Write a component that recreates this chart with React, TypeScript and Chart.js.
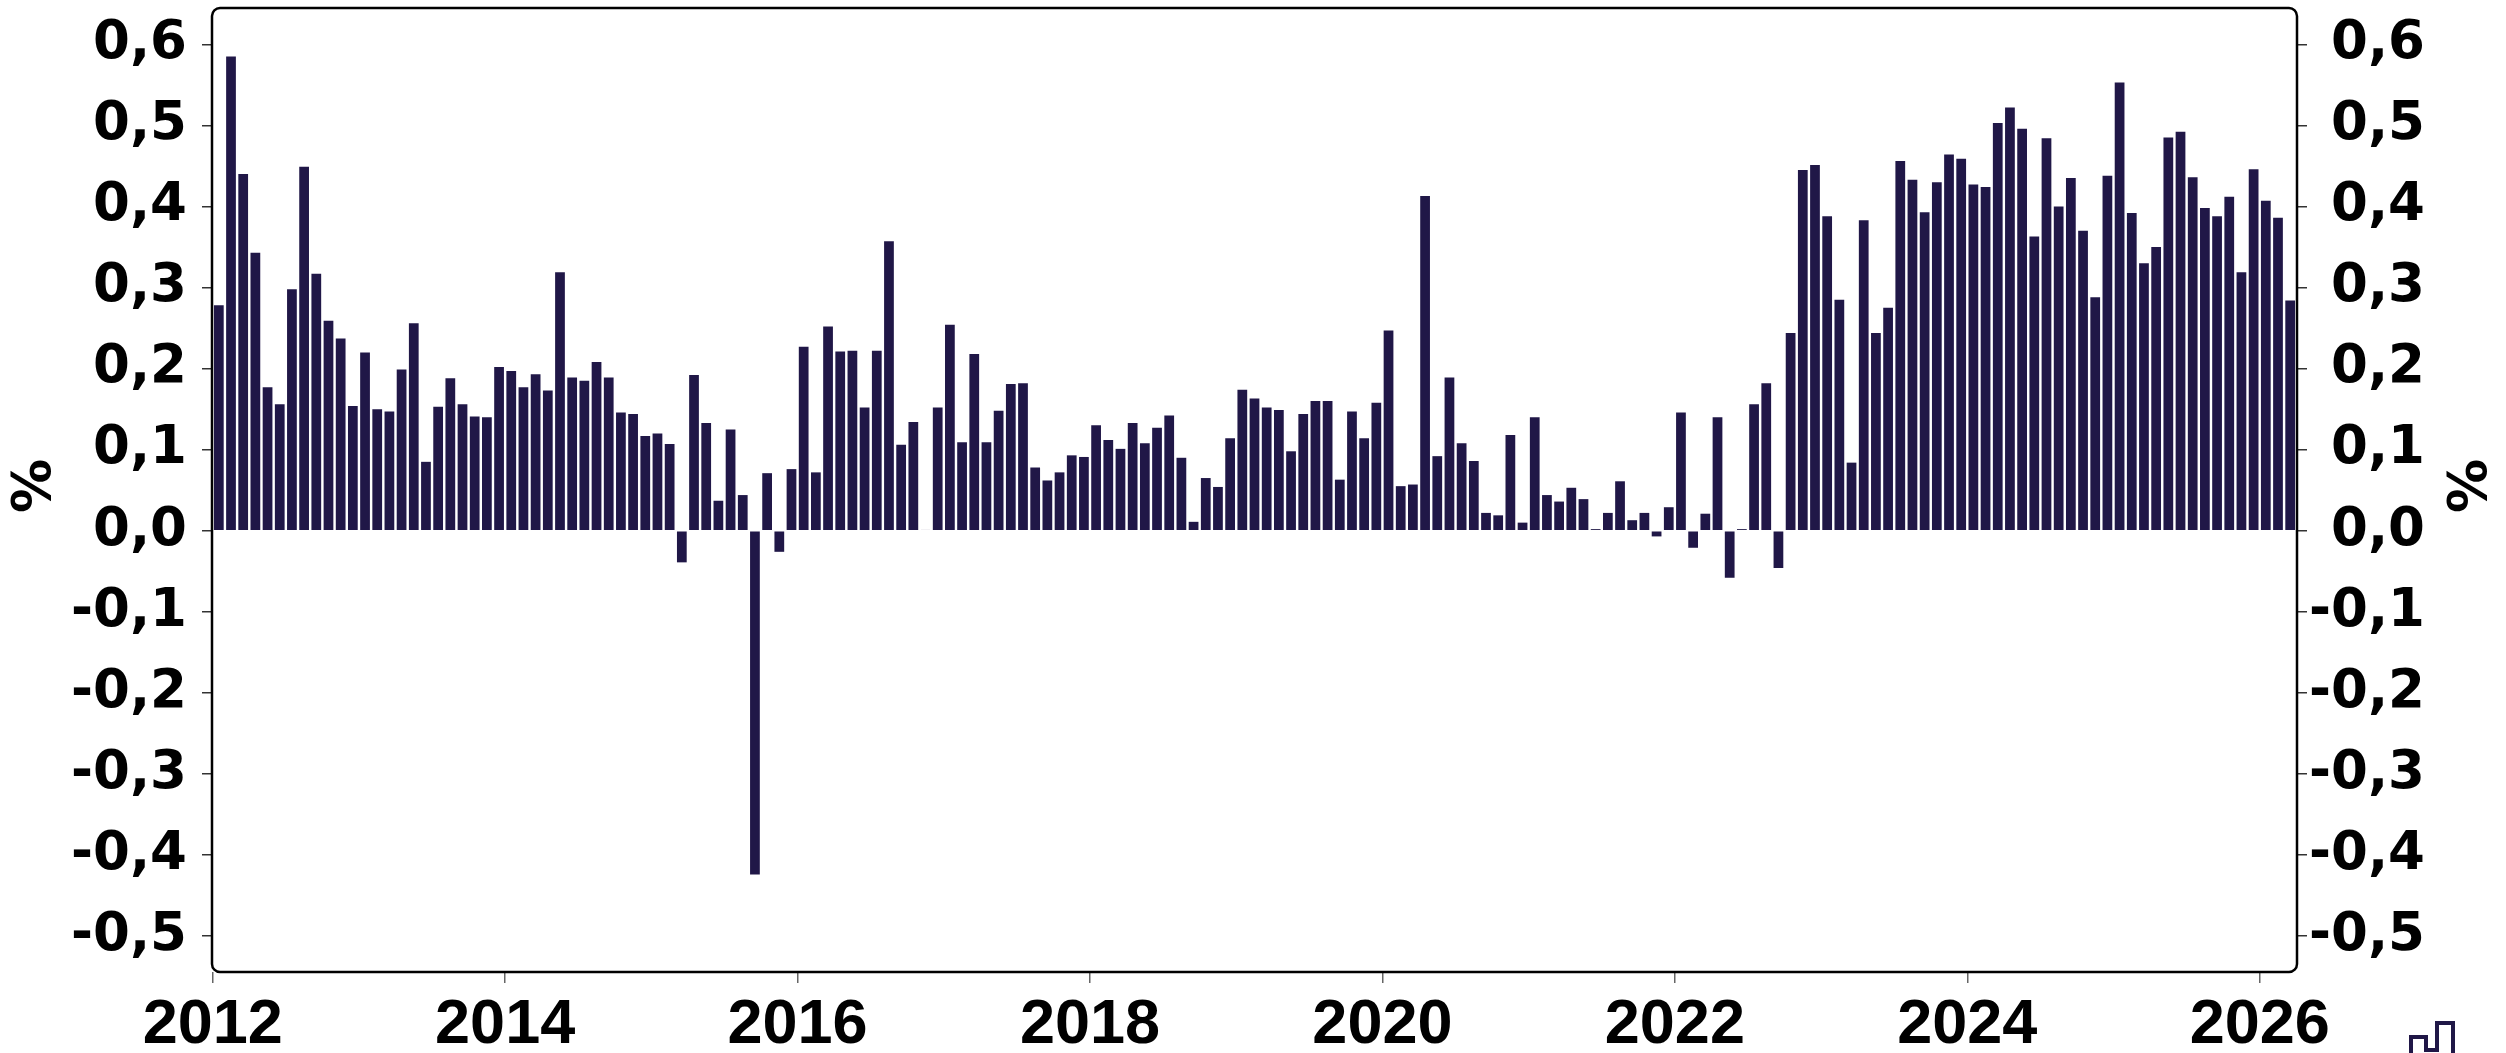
import { useEffect, useRef } from 'react';
import { Chart, registerables } from 'chart.js';

Chart.register(...registerables);

// Monthly values (%), January..December, starting 2012
const START_YEAR = 2012;
const v2012 = [0.278, 0.585, 0.44, 0.343, 0.177, 0.156, 0.298, 0.449, 0.317, 0.259, 0.237, 0.154];
const v2013 = [0.22, 0.15, 0.147, 0.199, 0.256, 0.085, 0.153, 0.188, 0.156, 0.141, 0.14, 0.202];
const v2014 = [0.197, 0.177, 0.193, 0.173, 0.319, 0.189, 0.185, 0.208, 0.189, 0.146, 0.144, 0.117];
const v2015 = [0.12, 0.107, -0.039, 0.192, 0.133, 0.037, 0.125, 0.044, -0.424, 0.071, -0.026, 0.076];
const v2016 = [0.227, 0.072, 0.252, 0.221, 0.222, 0.152, 0.222, 0.357, 0.106, 0.134, 0.001, 0.152];
const v2017 = [0.254, 0.109, 0.218, 0.109, 0.148, 0.181, 0.182, 0.078, 0.062, 0.072, 0.093, 0.091];
const v2018 = [0.13, 0.112, 0.101, 0.133, 0.108, 0.127, 0.142, 0.09, 0.011, 0.065, 0.054, 0.114];
const v2019 = [0.174, 0.163, 0.152, 0.149, 0.098, 0.144, 0.16, 0.16, 0.063, 0.147, 0.114, 0.158];
const v2020 = [0.247, 0.055, 0.057, 0.413, 0.092, 0.189, 0.108, 0.086, 0.022, 0.019, 0.118, 0.01];
const v2021 = [0.14, 0.044, 0.036, 0.053, 0.039, 0.002, 0.022, 0.061, 0.013, 0.022, -0.007, 0.029];
const v2022 = [0.146, -0.021, 0.021, 0.14, -0.058, 0.002, 0.156, 0.182, -0.046, 0.244, 0.445, 0.451];
const v2023 = [0.388, 0.285, 0.084, 0.383, 0.244, 0.275, 0.456, 0.433, 0.393, 0.43, 0.464, 0.459];
const v2024 = [0.427, 0.424, 0.503, 0.522, 0.496, 0.363, 0.484, 0.4, 0.435, 0.37, 0.288, 0.438];
const v2025 = [0.553, 0.392, 0.33, 0.35, 0.485, 0.492, 0.436, 0.398, 0.388, 0.412, 0.319, 0.446];
const v2026 = [0.407, 0.386, 0.284];

const yearlyValues = [v2012, v2013, v2014, v2015, v2016, v2017, v2018, v2019, v2020, v2021, v2022, v2023, v2024, v2025, v2026];

const xTickYears = [2012, 2014, 2016, 2018, 2020, 2022, 2024, 2026];
const yTickValues = [-0.5, -0.4, -0.3, -0.2, -0.1, 0, 0.1, 0.2, 0.3, 0.4, 0.5, 0.6];
const yAxisTitle = '%';

const BAR_COLOR = '#201747';
const Y_MIN = -0.5443;
const Y_MAX = 0.6448;
const X_MIN = 2011.995;
const X_MAX = 2026.255;

const fmtY = (v: number) => v.toFixed(1).replace('.', ',');

const decorPlugin = {
  id: 'decor',
  afterDraw(chart: any) {
    const { ctx, chartArea } = chart;
    const { left, top, right, bottom } = chartArea;
    const r = 8;
    ctx.save();
    // rounded plot frame
    ctx.strokeStyle = '#000';
    ctx.lineWidth = 2.5;
    ctx.beginPath();
    ctx.moveTo(left + r, top);
    ctx.lineTo(right - r, top);
    ctx.arcTo(right, top, right, top + r, r);
    ctx.lineTo(right, bottom - r);
    ctx.arcTo(right, bottom, right - r, bottom, r);
    ctx.lineTo(left + r, bottom);
    ctx.arcTo(left, bottom, left, bottom - r, r);
    ctx.lineTo(left, top + r);
    ctx.arcTo(left, top, left + r, top, r);
    ctx.closePath();
    ctx.stroke();

    // axis titles "%"
    const midY = (top + bottom) / 2 - 4;
    ctx.fillStyle = '#000';
    ctx.font = 'bold 54px "DejaVu Sans", sans-serif';
    ctx.textAlign = 'center';
    ctx.textBaseline = 'middle';
    ctx.save();
    ctx.translate(36, midY);
    ctx.rotate(-Math.PI / 2);
    ctx.fillText(yAxisTitle, 0, 0);
    ctx.restore();
    ctx.save();
    ctx.translate(2472, midY);
    ctx.rotate(-Math.PI / 2);
    ctx.fillText(yAxisTitle, 0, 0);
    ctx.restore();

    // small logo bottom-right
    ctx.strokeStyle = BAR_COLOR;
    ctx.lineWidth = 4;
    ctx.beginPath();
    ctx.moveTo(2411, 1053);
    ctx.lineTo(2411, 1037);
    ctx.lineTo(2426, 1037);
    ctx.lineTo(2426, 1050);
    ctx.lineTo(2437, 1050);
    ctx.lineTo(2437, 1023);
    ctx.lineTo(2453, 1023);
    ctx.lineTo(2453, 1053);
    ctx.stroke();
    ctx.restore();
  },
};

export default function App() {
  const ref = useRef<HTMLCanvasElement>(null);

  useEffect(() => {
    if (!ref.current) return;
    const points: { x: number; y: number }[] = [];
    yearlyValues.forEach((arr, yi) => {
      arr.forEach((v, m) => {
        points.push({ x: START_YEAR + yi + (m + 0.5) / 12, y: v });
      });
    });

    const yFont = { family: '"DejaVu Sans", sans-serif', weight: 'bold' as const, size: 53 };

    const chart = new Chart(ref.current, {
      type: 'bar',
      data: {
        datasets: [
          {
            data: points as any,
            backgroundColor: BAR_COLOR,
            borderWidth: 0,
            barPercentage: 0.8,
            categoryPercentage: 1,
            yAxisID: 'y',
          },
        ],
      },
      options: {
        responsive: false,
        animation: false,
        devicePixelRatio: 1,
        layout: { padding: { left: 0, right: 81, top: 8, bottom: 0 } },
        plugins: { legend: { display: false }, tooltip: { enabled: false } },
        scales: {
          x: {
            type: 'linear',
            min: X_MIN,
            max: X_MAX,
            offset: false,
            grid: { offset: false, drawOnChartArea: false, drawTicks: true, tickLength: 11, color: '#666', lineWidth: 1.5 },
            border: { display: false },
            ticks: {
              font: { family: '"Liberation Sans", Arial, sans-serif', weight: 'bold', size: 63 },
              color: '#000',
              padding: 5,
              maxRotation: 0,
              autoSkip: false,
              callback: (v: any) => String(v),
            },
            afterBuildTicks: (s: any) => {
              s.ticks = xTickYears.map((v) => ({ value: v }));
            },
            afterFit: (s: any) => {
              s.height = 81;
            },
          },
          y: {
            position: 'left',
            min: Y_MIN,
            max: Y_MAX,
            grid: { drawOnChartArea: false, drawTicks: true, tickLength: 10, color: '#333', lineWidth: 1.5 },
            border: { display: false },
            ticks: { font: yFont, color: '#000', padding: 15, callback: (v: any) => fmtY(Number(v)) },
            afterBuildTicks: (s: any) => {
              s.ticks = yTickValues.map((v) => ({ value: v }));
            },
            afterFit: (s: any) => {
              s.width = 212;
              s.paddingTop = 0;
              s.paddingBottom = 0;
            },
          },
          y2: {
            position: 'right',
            min: Y_MIN,
            max: Y_MAX,
            grid: { drawOnChartArea: false, drawTicks: true, tickLength: 10, color: '#333', lineWidth: 1.5 },
            border: { display: false },
            ticks: { font: yFont, color: '#000', padding: 15, crossAlign: 'far', callback: (v: any) => fmtY(Number(v)) },
            afterBuildTicks: (s: any) => {
              s.ticks = yTickValues.map((v) => ({ value: v }));
            },
            afterFit: (s: any) => {
              s.width = 128;
              s.paddingTop = 0;
              s.paddingBottom = 0;
            },
          },
        },
      } as any,
      plugins: [decorPlugin],
    });
    return () => chart.destroy();
  }, []);

  return (
    <canvas
      ref={ref}
      width={2506}
      height={1053}
      style={{ position: 'fixed', left: 0, top: 0, width: 2506, height: 1053, display: 'block', background: '#fff' }}
    />
  );
}
